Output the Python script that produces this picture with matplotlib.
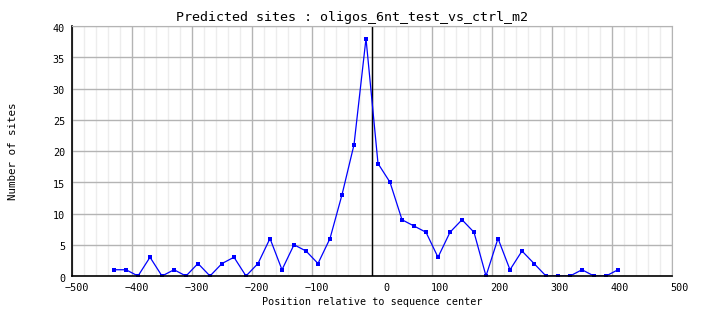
import matplotlib
matplotlib.use("Agg")
import matplotlib.pyplot as plt
import matplotlib.transforms as mtransforms
import numpy as np

# site counts per 20-bp window, window centers from -430 to 410
positions = np.arange(-430, 411, 20)
site_counts = [1, 1, 0, 3, 0, 1, 0, 2, 0, 2, 3, 0, 2, 6, 1, 5, 4, 2, 6, 13, 21, 38,
               18, 15, 9, 8, 7, 3, 7, 9, 7, 0, 6, 1, 4, 2, 0, 0, 0, 1, 0, 0, 1]
x_ticks = list(range(-500, 501, 100))
y_ticks = list(range(0, 41, 5))

title = "Predicted sites : oligos_6nt_test_vs_ctrl_m2"
xlabel = "Position relative to sequence center"
ylabel = "Number of sites"

plt.rcParams['font.family'] = ['DejaVu Sans Mono']

fig = plt.figure(figsize=(7.04, 3.28), dpi=100)
ax = fig.add_axes([72 / 704, 52 / 328, 600 / 704, 250 / 328])

ax.set_xlim(-500, 500)
ax.set_ylim(0, 40)
ax.set_xticks(x_ticks)
ax.set_yticks(y_ticks)
ax.set_xticks(np.arange(-500, 501, 20), minor=True)
ax.tick_params(which='both', length=0, labelsize=7.3)
ax.tick_params(axis='x', pad=5)
ax.tick_params(axis='y', pad=5)

# x tick labels sit right-aligned just past their grid line
shift = mtransforms.ScaledTranslation(17 / 100, 0, fig.dpi_scale_trans)
for lbl in ax.get_xticklabels():
    lbl.set_horizontalalignment('right')
    lbl.set_transform(lbl.get_transform() + shift)
yshift = mtransforms.ScaledTranslation(0, -1.5 / 100, fig.dpi_scale_trans)
for lbl in ax.get_yticklabels():
    lbl.set_transform(lbl.get_transform() + yshift)

ax.grid(True, which='minor', axis='x', color='#ededed', linewidth=1)
ax.grid(True, which='major', color='#b4b4b4', linewidth=1)
ax.set_axisbelow(True)

for side in ('top', 'right'):
    ax.spines[side].set_color('#b4b4b4')
for side in ('left', 'bottom'):
    ax.spines[side].set_color('black')
    ax.spines[side].set_linewidth(1.2)

ax.axvline(0, color='black', linewidth=1)
ax.plot(positions, site_counts, color='blue', linewidth=0.9,
        marker='s', markersize=2.5, markeredgewidth=0)

# title is centred on the whole image, not the axes
fig.text(0.5, 1 - 17 / 328, title, fontsize=9.6, ha='center', va='center')
ax.set_xlabel(xlabel, fontsize=7.3, labelpad=3)
ax.set_ylabel(ylabel, fontsize=7.8, labelpad=25)

fig.savefig("out.png", dpi=100)
